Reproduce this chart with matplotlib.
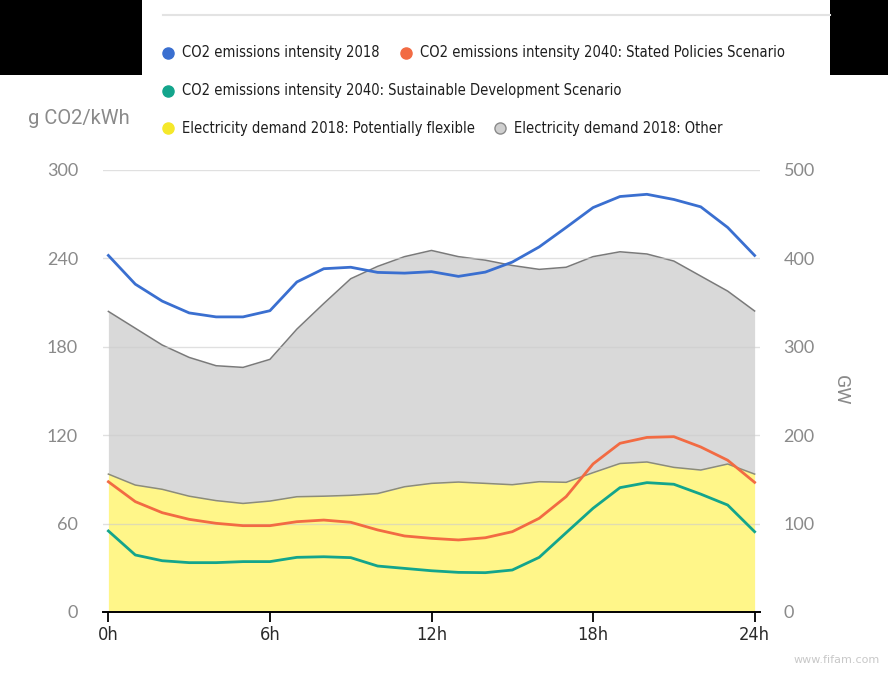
import matplotlib
matplotlib.use("Agg")
from matplotlib import pyplot as plt
from matplotlib import font_manager
from matplotlib.patches import Rectangle
from matplotlib.lines import Line2D

# hours of the day
hours = list(range(25))

# CO2 intensity, g CO2/kWh (left axis)
co2_2018 = [242, 222.5, 211, 203, 200.3, 200.3, 204.5, 224, 233, 234, 230.5, 230, 231,
            227.8, 230.7, 237.5, 247.8, 261, 274.5, 282, 283.5, 280, 275, 261, 242]
co2_2040_steps = [88.4, 74.9, 67.4, 62.9, 60.2, 58.6, 58.6, 61.3, 62.4, 60.9, 55.7, 51.6, 50,
                  48.9, 50.4, 54.5, 63.6, 78.3, 100.5, 114.5, 118.5, 119, 112, 103, 88]
co2_2040_sds = [55, 38.7, 34.8, 33.5, 33.5, 34.2, 34.2, 37.1, 37.5, 36.9, 31.2, 29.6, 28,
                26.9, 26.7, 28.5, 37.1, 53.8, 70.4, 84.4, 87.8, 86.7, 80, 72.6, 54.5]

# electricity demand, GW (right axis)
demand_flexible = [156, 143.6, 138.8, 131, 126, 122.8, 125.5, 130.4, 131, 132, 134, 141.7, 145.5,
                   147, 145.5, 144, 147.4, 146.7, 157.6, 168, 169.7, 163.6, 160.6, 167.4, 156]
demand_total = [340, 321, 302, 288, 278.6, 276.7, 285.8, 320, 349, 377, 391, 402, 409,
                402, 398, 392, 387.6, 390, 402, 407.5, 405, 397, 380, 363, 340.5]

xticks = [0, 6, 12, 18, 24]
xtick_labels = ["0h", "6h", "12h", "18h", "24h"]
left_ticks = [0, 60, 120, 180, 240, 300]
right_ticks = [0, 100, 200, 300, 400, 500]

BLUE = "#3a6fd0"
ORANGE = "#f26b43"
TEAL = "#13a58c"
YELLOW = "#fff689"
GREY = "#d9d9d9"

# pick a narrow font if one is around
fonts = font_manager.fontManager.ttflist
if any(f.name == "Liberation Sans Narrow" for f in fonts):
    narrow = dict(family="Liberation Sans Narrow")
    scale = 0.95
elif any(f.name == "DejaVu Sans" and f.stretch == "condensed" for f in fonts):
    narrow = dict(family="DejaVu Sans", stretch="condensed")
    scale = 0.84
else:
    narrow = dict(family="Roboto")
    scale = 0.78

fig = plt.figure(figsize=(8.88, 6.77), dpi=100)
W, H = 888, 677

ax = fig.add_axes([103 / W, 1 - 612 / H, (760 - 103) / W, (612 - 170) / H])
ax2 = ax.twinx()
ax.set_zorder(ax2.get_zorder() + 1)
ax.patch.set_visible(False)

# stacked demand areas on the right (GW) axis
lower = [0] * len(hours)
ax2.fill_between(hours, lower, demand_flexible, color=YELLOW, lw=0)
ax2.fill_between(hours, demand_flexible, demand_total, color=GREY, lw=0)
ax2.plot(hours, demand_flexible, color="#8c8c78", lw=1.1)
ax2.plot(hours, demand_total, color="#7a7a7a", lw=1.1)
ax2.set_ylim(0, 500)
ax2.set_yticks(right_ticks)

# intensity lines on the left axis
ax.plot(hours, co2_2018, color=BLUE, lw=2.0, zorder=3)
ax.plot(hours, co2_2040_steps, color=ORANGE, lw=2.0, zorder=3)
ax.plot(hours, co2_2040_sds, color=TEAL, lw=2.0, zorder=3)
ax.set_ylim(0, 300)
ax.set_yticks(left_ticks)
ax.set_xlim(-0.2, 24.2)
ax.set_xticks(xticks)
ax.set_xticklabels(xtick_labels, fontsize=15.5 * scale, color="#2a2a2a", **narrow)
ax.grid(axis="y", color="#cccccc", alpha=0.6, lw=1, zorder=1)
ax.grid(axis="x", visible=False)

for a in (ax, ax2):
    for s in ("top", "left", "right", "bottom"):
        a.spines[s].set_visible(False)
ax.spines["bottom"].set_visible(True)
ax.spines["bottom"].set_color("black")
ax.spines["bottom"].set_linewidth(1.4)

ax.tick_params(axis="x", direction="out", length=7, width=1.3, color="black", pad=3)
ax.tick_params(axis="y", length=0, pad=18, labelsize=13, labelcolor="#8a8a8a")
ax2.tick_params(axis="y", length=0, pad=17, labelsize=13, labelcolor="#8a8a8a")
for lab in ax.get_yticklabels() + ax2.get_yticklabels():
    lab.set_family("Lato")

fig.text(28 / W, 1 - 118 / H, "g CO2/kWh", fontsize=14.5, color="#8a8a8a",
         family="Roboto", va="center", ha="left")
fig.text(841 / W, 1 - 390 / H, "GW", fontsize=14, color="#8a8a8a", family="Roboto",
         rotation=270, va="center", ha="center")

# legend rows
legend_items = [
    (168, 53, BLUE, BLUE, "CO2 emissions intensity 2018"),
    (406, 53, ORANGE, ORANGE, "CO2 emissions intensity 2040: Stated Policies Scenario"),
    (168, 91, TEAL, TEAL, "CO2 emissions intensity 2040: Sustainable Development Scenario"),
    (168, 128, "#f5e82a", "#f5e82a", "Electricity demand 2018: Potentially flexible"),
    (500, 128, "#cfcfcf", "#8a8a8a", "Electricity demand 2018: Other"),
]
for px, py, fc, ec, label in legend_items:
    fig.add_artist(Line2D([px / W], [1 - py / H], marker="o", markersize=8,
                          markerfacecolor=fc, markeredgecolor=ec, markeredgewidth=1,
                          transform=fig.transFigure, linestyle="none"))
    fig.text((px + 14) / W, 1 - py / H, label, fontsize=12.5 * scale,
             color="#1e1e1e", va="center", ha="left", **narrow)

# black corners and separator line from the screenshot
fig.add_artist(Rectangle((0, 1 - 75 / H), 142 / W, 75 / H, transform=fig.transFigure,
                         color="black", lw=0))
fig.add_artist(Rectangle((830 / W, 1 - 75 / H), 58 / W, 75 / H, transform=fig.transFigure,
                         color="black", lw=0))
fig.add_artist(Line2D([163 / W, 830 / W], [1 - 15 / H, 1 - 15 / H], color="#e3e3e3",
                      lw=1.5, transform=fig.transFigure))

fig.text(880 / W, 1 - 660 / H, "www.fifam.com", fontsize=8, color="#c8c8c8",
         ha="right", va="center")

fig.savefig("out.png", dpi=100)
